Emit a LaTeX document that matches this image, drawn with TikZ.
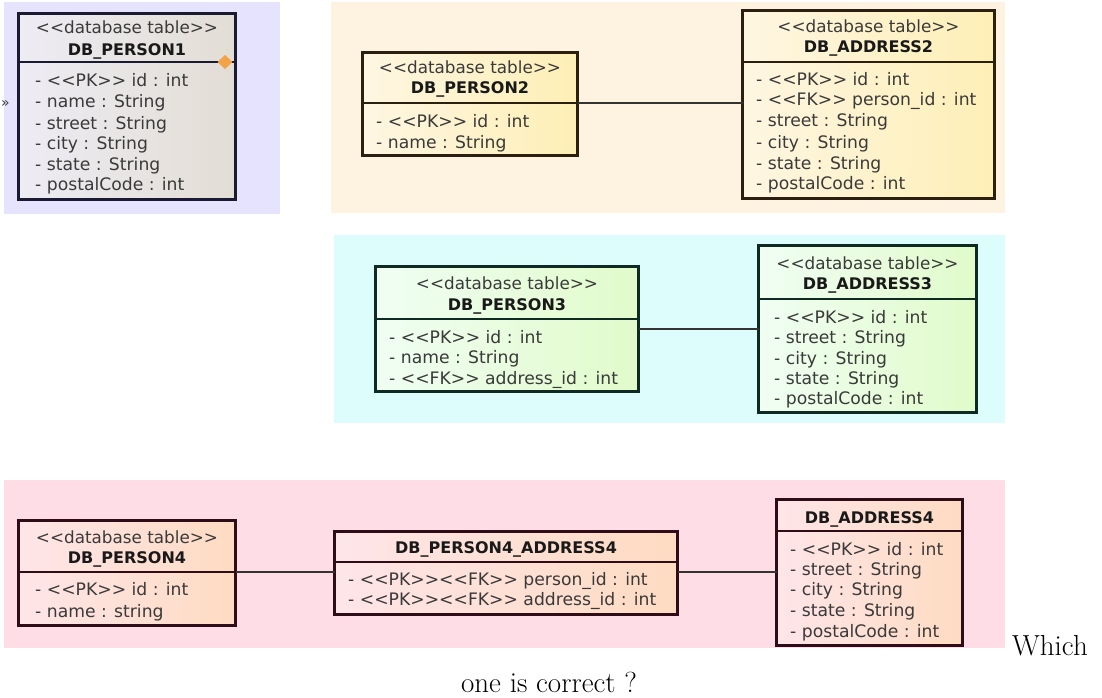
\documentclass[tikz,border=0pt]{standalone}
\usepackage{fontspec}
\newfontfamily\umlf{DejaVu Sans}
\usetikzlibrary{calc}
\definecolor{bgA}{HTML}{E5E3FD}
\definecolor{bgB}{HTML}{FEF2E0}
\definecolor{bgC}{HTML}{DDFDFD}
\definecolor{bgD}{HTML}{FEDDE6}
\definecolor{fA1}{HTML}{EEECF4}\definecolor{fA2}{HTML}{E2DDD4}
\definecolor{fB1}{HTML}{FEF6E2}\definecolor{fB2}{HTML}{FEEFB6}
\definecolor{fC1}{HTML}{F0FEF3}\definecolor{fC2}{HTML}{E1FBCA}
\definecolor{fD1}{HTML}{FEE5E8}\definecolor{fD2}{HTML}{FEDBC2}
\definecolor{bA}{HTML}{1B1A33}
\definecolor{bB}{HTML}{2B2010}
\definecolor{bC}{HTML}{0E2A22}
\definecolor{bD}{HTML}{2E0C18}
\definecolor{txt}{HTML}{3A3A3A}
\definecolor{dia}{HTML}{F2A347}
\tikzset{
  tbl/.style={draw, line width=3pt, rectangle, inner sep=0pt, outer sep=0pt},
  tA/.style={tbl, draw=bA, left color=fA1, right color=fA2},
  tB/.style={tbl, draw=bB, left color=fB1, right color=fB2},
  tC/.style={tbl, draw=bC, left color=fC1, right color=fC2},
  tD/.style={tbl, draw=bD, left color=fD1, right color=fD2},
  divline/.style={line width=1.3pt},
  conn/.style={line width=1.2pt, draw=black!80},
  attr/.style={anchor=base west, inner sep=0pt, text=txt, font=\umlf\fontsize{17.2}{19}\selectfont},
  stereo/.style={anchor=base, inner sep=0pt, text=txt, font=\umlf\fontsize{16.8}{19}\selectfont},
  tname/.style={anchor=base, inner sep=0pt, text=black!90, font=\umlf\bfseries\fontsize{16}{18}\selectfont},
  bigtxt/.style={inner sep=0pt, font=\fontsize{29}{34}\selectfont},
}
\newcommand\dbtab[6]{\node[#6, minimum width={#4-#2-3}, minimum height={#5-#3-3}] (#1) at ({(#2+#4)/2},{(#3+#5)/2}) {};}
\begin{document}
\begin{tikzpicture}[x=1pt,y=-1pt]
\useasboundingbox[fill=white] (0,0) rectangle (1102,698);
% backgrounds
\fill[bgA] (4,2) rectangle (280,214);
\fill[bgB] (331,2) rectangle (1005,213);
\fill[bgC] (334,235) rectangle (1005,423);
\fill[bgD] (4,480) rectangle (1005,648);

% ---------- DB_PERSON1
\dbtab{p1}{17}{12}{237}{201}{tA}
\coordinate (d1) at (0,62);
\draw[divline, bA] (p1.west |- d1) -- (p1.east |- d1);
\node[stereo] (p1s) at (127,34) {<{}<database table>{}>};
\node[tname] (p1n) at (127,56) {DB\_PERSON1};
\node[attr] (p1a) at (35,87) {- <{}<PK>{}> id : int};
\node[attr] (p1b) at (35,108) {- name : String};
\node[attr] (p1c) at (35,129) {- street : String};
\node[attr] (p1d) at (35,149) {- city : String};
\node[attr] (p1e) at (35,170) {- state : String};
\node[attr] (p1f) at (35,190) {- postalCode : int};
\fill[dia] (217.5,62) -- (225,55) -- (232.5,62) -- (225,69) -- cycle;
\node[attr, font=\umlf\fontsize{14}{15}\selectfont] (gg) at (1,108) {»};

% ---------- DB_PERSON2 / DB_ADDRESS2
\dbtab{p2}{361}{51}{579}{157}{tB}
\coordinate (d2) at (0,103);
\draw[divline, bB] (p2.west |- d2) -- (p2.east |- d2);
\node[stereo] (p2s) at (470,74) {<{}<database table>{}>};
\node[tname] (p2n) at (470,94) {DB\_PERSON2};
\node[attr] (p2a) at (376,128) {- <{}<PK>{}> id : int};
\node[attr] (p2b) at (376,148) {- name : String};

\dbtab{a2}{741}{9}{996}{200}{tB}
\coordinate (e2) at (0,62);
\draw[divline, bB] (a2.west |- e2) -- (a2.east |- e2);
\node[stereo] (a2s) at (868.5,33) {<{}<database table>{}>};
\node[tname] (a2n) at (868.5,53) {DB\_ADDRESS2};
\node[attr] (a2a) at (756,86) {- <{}<PK>{}> id : int};
\node[attr] (a2b) at (756,106) {- <{}<FK>{}> person\_id : int};
\node[attr] (a2c) at (756,127) {- street : String};
\node[attr] (a2d) at (756,148) {- city : String};
\node[attr] (a2e) at (756,169) {- state : String};
\node[attr] (a2f) at (756,189) {- postalCode : int};
\draw[conn] (p2.east |- d2) -- (a2.west |- d2);

% ---------- DB_PERSON3 / DB_ADDRESS3
\dbtab{p3}{374}{265}{640}{393}{tC}
\coordinate (d3) at (0,319);
\draw[divline, bC] (p3.west |- d3) -- (p3.east |- d3);
\node[stereo] (p3s) at (507,289) {<{}<database table>{}>};
\node[tname] (p3n) at (507,310) {DB\_PERSON3};
\node[attr] (p3a) at (389,343) {- <{}<PK>{}> id : int};
\node[attr] (p3b) at (389,363) {- name : String};
\node[attr] (p3c) at (389,384) {- <{}<FK>{}> address\_id : int};

\dbtab{a3}{757}{244}{978}{414}{tC}
\coordinate (e3) at (0,299);
\draw[divline, bC] (a3.west |- e3) -- (a3.east |- e3);
\node[stereo] (a3s) at (867.5,269) {<{}<database table>{}>};
\node[tname] (a3n) at (867.5,289) {DB\_ADDRESS3};
\node[attr] (a3a) at (774,323) {- <{}<PK>{}> id : int};
\node[attr] (a3b) at (774,343) {- street : String};
\node[attr] (a3c) at (774,364) {- city : String};
\node[attr] (a3d) at (774,384) {- state : String};
\node[attr] (a3e) at (774,404) {- postalCode : int};
\coordinate (c3) at (0,329);
\draw[conn] (p3.east |- c3) -- (a3.west |- c3);

% ---------- DB_PERSON4 / DB_PERSON4_ADDRESS4 / DB_ADDRESS4
\dbtab{p4}{17}{519}{237}{627}{tD}
\coordinate (d4) at (0,572);
\draw[divline, bD] (p4.west |- d4) -- (p4.east |- d4);
\node[stereo] (p4s) at (127,543) {<{}<database table>{}>};
\node[tname] (p4n) at (127,563) {DB\_PERSON4};
\node[attr] (p4a) at (35,595) {- <{}<PK>{}> id : int};
\node[attr] (p4b) at (35,617) {- name : string};

\dbtab{pa}{333}{530}{679}{616}{tD}
\coordinate (dp) at (0,562);
\draw[divline, bD] (pa.west |- dp) -- (pa.east |- dp);
\node[tname] (pan) at (506,553) {DB\_PERSON4\_ADDRESS4};
\node[attr] (paa) at (348,585) {- <{}<PK>{}><{}<FK>{}> person\_id : int};
\node[attr] (pab) at (348,605) {- <{}<PK>{}><{}<FK>{}> address\_id : int};

\dbtab{a4}{775}{498}{964}{647}{tD}
\coordinate (e4) at (0,531);
\draw[divline, bD] (a4.west |- e4) -- (a4.east |- e4);
\node[tname] (a4n) at (869.5,523) {DB\_ADDRESS4};
\node[attr] (a4a) at (790,555) {- <{}<PK>{}> id : int};
\node[attr] (a4b) at (790,575) {- street : String};
\node[attr] (a4c) at (790,595) {- city : String};
\node[attr] (a4d) at (790,616) {- state : String};
\node[attr] (a4e) at (790,637) {- postalCode : int};

\draw[conn] (p4.east |- d4) -- (pa.west |- d4);
\draw[conn] (pa.east |- d4) -- (a4.west |- d4);

% caption text
\node[bigtxt, anchor=base west] (w1) at (1012,655) {Which};
\node[bigtxt, anchor=base] (w2) at (549,692) {one is correct ?};
\end{tikzpicture}
\end{document}
